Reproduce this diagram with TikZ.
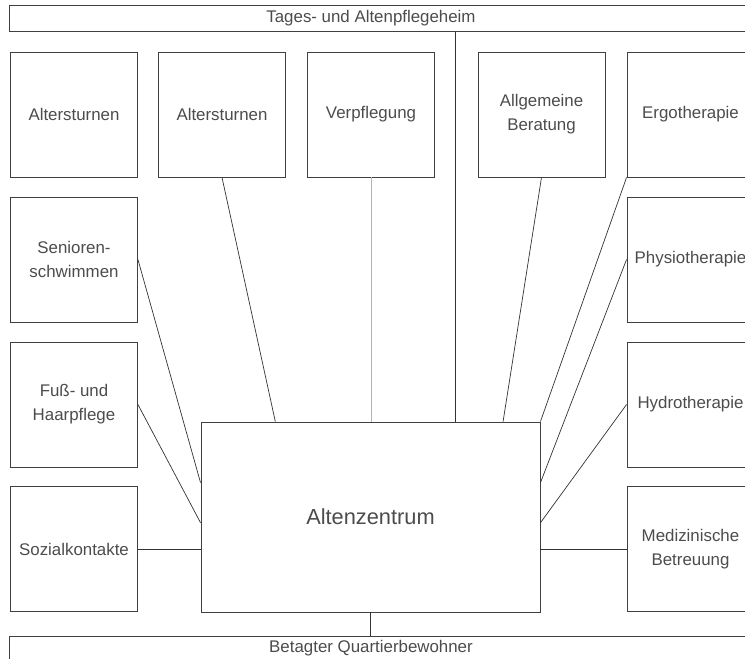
\documentclass[tikz,border=0pt]{standalone}
\usepackage{fontspec}
\setmainfont{Liberation Sans}
\usepackage{tikz}
\usetikzlibrary{calc,positioning}

\begin{document}
\begin{tikzpicture}[x=0.025cm,y=0.025cm,
        box/.style={draw=black!75,line width=0.6pt,minimum width=3.175cm,minimum height=3.125cm,inner sep=2pt,align=center,text=black!70,font=\fontsize{12}{17}\selectfont},
        bar/.style={draw=black!75,line width=0.6pt,minimum width=18.75cm,minimum height=0.65cm,inner sep=0pt},
        barlabel/.style={text=black!70,font=\fontsize{12}{14}\selectfont},
        link/.style={draw=black!80,line width=0.5pt},
        paleline/.style={draw=black!30,line width=0.6pt}]
            \useasboundingbox (0,0) rectangle (745,659);
            \clip (0,0) rectangle (745,659);
            \node[bar,label={[barlabel,xshift=-0.35cm]center:Tages- und Altenpflegeheim}] (heim) at (385,640.5) {};
            \node[bar,label={[barlabel,xshift=-0.35cm,yshift=0.03cm]center:Betagter Quartierbewohner}] (quartier) at (385,10) {};
            \node[box] (turnena) at (74,544.5) {Altersturnen};
            \node[box] (turnenb) at (222,544.5) {Altersturnen};
            \node[box] (verpfl) at (371,544.5) {Verpflegung};
            \node[box] (beratung) at (541.5,544.5) {Allgemeine\\Beratung};
            \node[box] (ergo) at (690.5,544.5) {Ergotherapie};
            \node[box] (schwimmen) at (74,399.5) {Senioren-\\schwimmen};
            \node[box] (fuss) at (74,254.5) {Fuß- und\\Haarpflege};
            \node[box] (sozial) at (74,110) {Sozialkontakte};
            \node[box] (physio) at (690.5,399.5) {Physiotherapie};
            \node[box] (hydro) at (690.5,254.5) {Hydrotherapie};
            \node[box] (medizin) at (690.5,110) {Medizinische\\Betreuung};
            \node[box,minimum width=8.475cm,minimum height=4.75cm,font=\fontsize{15.5}{18}\selectfont] (zentrum) at (370.5,142) {Altenzentrum};
            \coordinate (split) at ($(zentrum.north west)!0.75!(zentrum.north east)$);
            \draw[link] (split) -- (split |- heim.south);
            \draw[paleline] (verpfl.south) -- (verpfl.south |- zentrum.north);
            \draw[link] (turnenb.south) -- ($(zentrum.north west)!0.22!(zentrum.north east)$);
            \draw[link] (beratung.south) -- ($(zentrum.north west)!0.89!(zentrum.north east)$);
            \draw[link] (ergo.south west) -- (zentrum.north east);
            \draw[link] (physio.west) -- ($(zentrum.north east)!0.32!(zentrum.south east)$);
            \draw[link] (hydro.west) -- ($(zentrum.north east)!0.53!(zentrum.south east)$);
            \draw[link] (medizin.west) -- (medizin.west -| zentrum.east);
            \draw[link] (schwimmen.east) -- ($(zentrum.north west)!0.32!(zentrum.south west)$);
            \draw[link] (fuss.east) -- ($(zentrum.north west)!0.53!(zentrum.south west)$);
            \draw[link] (sozial.east) -- (sozial.east -| zentrum.west);
            \draw[link] (zentrum.south) -- (zentrum.south |- quartier.north);
        \end{tikzpicture}
\end{document}
